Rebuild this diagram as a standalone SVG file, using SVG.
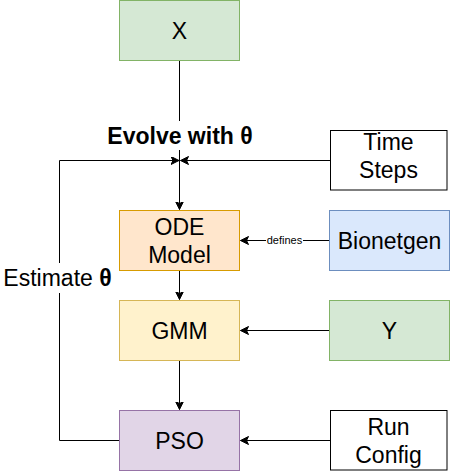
<svg xmlns="http://www.w3.org/2000/svg" width="450" height="471" viewBox="0 0 450 471">
<defs>
<marker id="arr" markerWidth="10" markerHeight="10" refX="8" refY="4" orient="auto" markerUnits="userSpaceOnUse" viewBox="0 0 10 10">
<path d="M0,0 L8,4 L0,8 L2,4 Z" fill="#000" stroke="#000" stroke-width="1" stroke-linejoin="miter"/>
</marker>
</defs>
<style>
.box{stroke-width:1}
.t{font-family:"Liberation Sans",Arial,sans-serif;font-size:23px;fill:#000;text-anchor:middle}
.e{fill:none;stroke:#000;stroke-width:1}
.lbl{font-family:"Liberation Sans",Arial,sans-serif;fill:#000;text-anchor:middle}
</style>
<rect width="450" height="471" fill="#fff"/>
<g id="connectors">
<path class="e" d="M179.5,60.5 L179.5,209.5" marker-end="url(#arr)"/>
<path class="e" d="M119.5,440.5 L59.5,440.5 L59.5,160.5 L179,160.5" marker-end="url(#arr)"/>
<path class="e" d="M330,160.5 L180.5,160.5" marker-end="url(#arr)"/>
<path class="e" d="M329.5,240.5 L240.5,240.5" marker-end="url(#arr)"/>
<path class="e" d="M179.5,270.5 L179.5,299.5" marker-end="url(#arr)"/>
<path class="e" d="M329.5,330.5 L240.5,330.5" marker-end="url(#arr)"/>
<path class="e" d="M179.5,360.5 L179.5,409.5" marker-end="url(#arr)"/>
<path class="e" d="M330,440.5 L240.5,440.5" marker-end="url(#arr)"/>
<rect x="104" y="121" width="152" height="29" fill="#fff"/>
<text class="lbl" x="180" y="144" font-size="23" font-weight="bold">Evolve with θ</text>
<rect x="1" y="263" width="113" height="30" fill="#fff"/>
<text class="lbl" x="57.5" y="286" font-size="23">Estimate <tspan font-weight="bold">θ</tspan></text>
<rect x="266" y="234" width="37" height="13" fill="#fff"/>
<text class="lbl" x="284.5" y="244" font-size="11">defines</text>
</g>
<g id="node-x">
<rect x="119.5" y="0.5" width="120" height="60" fill="#d5e8d4" stroke="#82b366"/>
<text class="t" x="179.5" y="39">X</text>
</g>
<g id="node-timesteps">
<rect x="330.5" y="130.5" width="116.5" height="59.5" fill="#fff" stroke="#000"/>
<text class="t" x="388.5" y="150">Time</text>
<text class="t" x="388.5" y="177.5">Steps</text>
</g>
<g id="node-ode">
<rect x="119.5" y="210.5" width="120" height="60" fill="#ffe6cc" stroke="#d79b00"/>
<text class="t" x="179.5" y="235">ODE</text>
<text class="t" x="179.5" y="262.5">Model</text>
</g>
<g id="node-bionetgen">
<rect x="329.5" y="210.5" width="120" height="60" fill="#dae8fc" stroke="#6c8ebf"/>
<text class="t" x="389.5" y="249">Bionetgen</text>
</g>
<g id="node-gmm">
<rect x="119.5" y="300.5" width="120" height="60" fill="#fff2cc" stroke="#d6b656"/>
<text class="t" x="179.5" y="339">GMM</text>
</g>
<g id="node-y">
<rect x="329.5" y="300.5" width="120" height="60" fill="#d5e8d4" stroke="#82b366"/>
<text class="t" x="389.5" y="339">Y</text>
</g>
<g id="node-pso">
<rect x="119.5" y="410.5" width="120" height="60" fill="#e1d5e7" stroke="#9673a6"/>
<text class="t" x="179.5" y="449">PSO</text>
</g>
<g id="node-runconfig">
<rect x="330.5" y="410.5" width="116.5" height="59.5" fill="#fff" stroke="#000"/>
<text class="t" x="388.5" y="435">Run</text>
<text class="t" x="388.5" y="462.5">Config</text>
</g>
</svg>
